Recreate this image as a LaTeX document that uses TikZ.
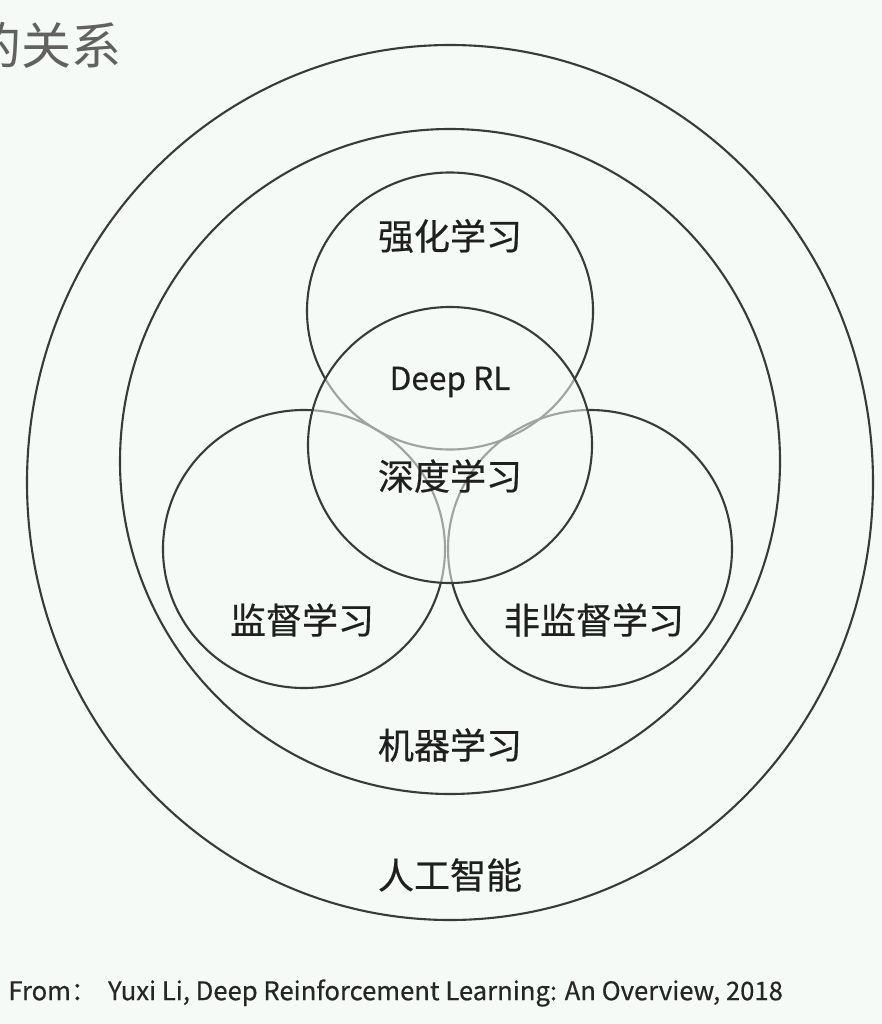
\documentclass[tikz,border=0pt]{standalone}
\usepackage{fontspec}
\setmainfont{Noto Sans CJK SC}
\newfontfamily\heavycjk{Noto Sans CJK SC}[FakeBold=0.5]
\usetikzlibrary{positioning}
\definecolor{bgpaper}{RGB}{245,250,246}
\definecolor{ringline}{RGB}{58,58,58}

\begin{document}
\begin{tikzpicture}[
    x=0.02cm,y=-0.02cm,
    ring/.style={draw=ringline,line width=1.2pt},
    vtext/.style={font=\heavycjk\fontsize{20.5}{24}\selectfont,text=black!88,inner sep=0pt},
    reftext/.style={font=\heavycjk\fontsize{14.6}{18}\selectfont,text=black!85,inner sep=0pt}
  ]
  \fill[bgpaper] (0,0) rectangle (882,1024);
  \useasboundingbox (0,0) rectangle (882,1024);
  \node[anchor=east,font=\fontsize{28.5}{32}\selectfont,text=black!62,inner sep=0pt] (title) at (122,45) {的关系};
  \draw[ring] (450,482.5) ellipse [x radius=423,y radius=437.5];
  \draw[ring] (450,461.5) ellipse [x radius=330,y radius=332.5];
  \draw[ring] (450,311) ellipse [x radius=143,y radius=138.5];
  \draw[ring] (304,549) ellipse [x radius=141,y radius=139];
  \draw[ring] (590,549) ellipse [x radius=142,y radius=139];
  \fill[bgpaper,opacity=0.55] (450,445) ellipse [x radius=142,y radius=138];
  \draw[ring] (450,445) ellipse [x radius=142,y radius=138];
  \node[vtext] (rl) at (450,236) {强化学习};
  \node[vtext,font=\heavycjk\fontsize{18}{22}\selectfont] (deeprl) at (450,382) {Deep RL};
  \node[vtext] (dl) at (450,476) {深度学习};
  \node[vtext] (sl) at (302,620) {监督学习};
  \node[vtext] (ul) at (594,620) {非监督学习};
  \node[vtext] (ml) at (450,745) {机器学习};
  \node[vtext] (ai) at (450,875) {人工智能};
  \node[reftext,anchor=west] (source) at (8,993) {From：\ \ Yuxi Li, Deep Reinforcement Learning: An Overview, 2018};
\end{tikzpicture}
\end{document}
